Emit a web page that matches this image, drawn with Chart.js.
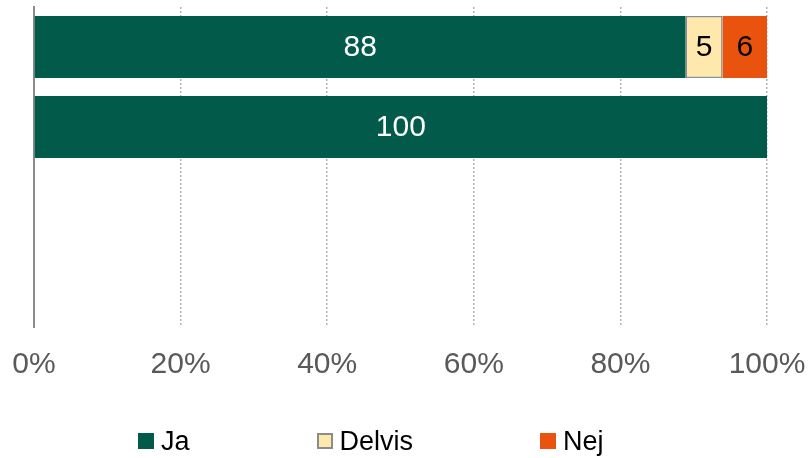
<!DOCTYPE html>
<html>
<head>
<meta charset="utf-8">
<title>Ja / Delvis / Nej</title>
<script src="https://cdn.jsdelivr.net/npm/chart.js@4"></script>
<style>
    html, body { margin: 0; padding: 0; background: #fff; }
    #wrap { position: relative; width: 811px; height: 458px; }
    #answers-legend {
        position: absolute;
        left: 138px;
        top: 426px;
        display: flex;
        gap: 127px;
        font: 27px "Liberation Sans", Arial, sans-serif;
        color: #000;
        line-height: 30px;
    }
    #answers-legend .item { display: flex; align-items: center; height: 30px; }
    #answers-legend .box {
        width: 16px;
        height: 16px;
        margin-right: 7px;
        box-sizing: border-box;
    }
</style>
</head>
<body>
<div id="wrap">
    <canvas id="answers-chart" width="811" height="458"></canvas>
    <div id="answers-legend"></div>
</div>
<script>
// Answer shares per question (4 rows, only the first two answered)
const categories = ['1', '2', '3', '4'];
const seriesNames = ['Ja', 'Delvis', 'Nej'];
const jaValues = [88, 100, null, null];
const delvisValues = [5, 0, null, null];
const nejValues = [6, 0, null, null];
const tickLabels = ['0%', '20%', '40%', '60%', '80%', '100%'];

const COLORS = ['#025a4b', '#fee8ab', '#e9530e'];
const BORDERS = [null, '#8c8c8c', null];
const LABEL_COLORS = ['#ffffff', '#000000', '#000000'];
const FONT = '"Liberation Sans", Arial, sans-serif';

// share of the row total, like a 100% stacked bar
function toShares(series) {
    return series.map(function(values) {
        return values.map(function(v, i) {
            if (v === null) return null;
            let total = 0;
            series.forEach(function(s) { total += s[i] || 0; });
            return total ? v / total * 100 : 0;
        });
    });
}

// writes the raw answer count in the middle of each segment
const valueLabels = {
    id: 'valueLabels',
    afterDatasetsDraw(chart) {
        const ctx = chart.ctx;
        ctx.save();
        ctx.font = '30px ' + FONT;
        ctx.textAlign = 'center';
        ctx.textBaseline = 'middle';
        chart.data.datasets.forEach(function(ds, di) {
            const meta = chart.getDatasetMeta(di);
            meta.data.forEach(function(bar, i) {
                const raw = ds.rawValues[i];
                if (!raw) return;
                const p = bar.getCenterPoint();
                ctx.fillStyle = LABEL_COLORS[di];
                ctx.fillText(String(raw), p.x, p.y + 1);
            });
        });
        ctx.restore();
    }
};

function buildLegend() {
    const legend = document.getElementById('answers-legend');
    seriesNames.forEach(function(name, i) {
        const item = document.createElement('span');
        item.className = 'item';
        const box = document.createElement('span');
        box.className = 'box';
        box.style.background = COLORS[i];
        if (BORDERS[i]) box.style.border = '2px solid ' + BORDERS[i];
        item.appendChild(box);
        item.appendChild(document.createTextNode(name));
        legend.appendChild(item);
    });
}

document.addEventListener('DOMContentLoaded', function() {
    const raw = [jaValues, delvisValues, nejValues];
    const shares = toShares(raw);

    new Chart(document.getElementById('answers-chart'), {
        type: 'bar',
        data: {
            labels: categories,
            datasets: seriesNames.map(function(name, i) {
                return {
                    label: name,
                    data: shares[i],
                    rawValues: raw[i],
                    backgroundColor: COLORS[i],
                    borderColor: BORDERS[i] || COLORS[i],
                    borderWidth: BORDERS[i] ? 1.5 : 0,
                    borderSkipped: false,
                    categoryPercentage: 1,
                    barPercentage: 0.775
                };
            })
        },
        options: {
            indexAxis: 'y',
            responsive: false,
            animation: false,
            layout: {
                padding: { left: 34, right: 44, top: 7, bottom: 75 }
            },
            scales: {
                x: {
                    stacked: true,
                    min: 0,
                    max: 100,
                    grid: {
                        color: '#b3b3b3',
                        lineWidth: 1.5,
                        drawTicks: true,
                        tickLength: 20,
                        tickColor: 'transparent'
                    },
                    border: { display: false, dash: [2, 2] },
                    ticks: {
                        stepSize: 20,
                        padding: 0,
                        color: '#595959',
                        font: { family: FONT, size: 30 },
                        callback: function(value) { return tickLabels[value / 20]; }
                    }
                },
                y: {
                    stacked: true,
                    grid: { display: false, drawTicks: false },
                    border: { display: true, color: '#8c8c8c', width: 2 },
                    ticks: { display: false }
                }
            },
            plugins: {
                legend: { display: false },
                tooltip: { enabled: false }
            }
        },
        plugins: [valueLabels]
    });

    buildLegend();
});
</script>
</body>
</html>
